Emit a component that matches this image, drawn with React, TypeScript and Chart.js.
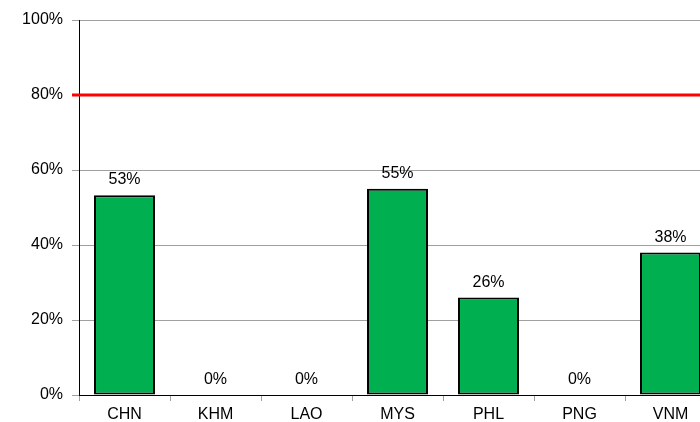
import React, { useEffect, useRef } from "react";
import { Chart, registerables } from "chart.js";

Chart.register(...registerables);

const categories = ["CHN", "KHM", "LAO", "MYS", "PHL", "PNG", "VNM"];
const values = [53.3, 0, 0, 55, 26, 0, 38];
const valueLabels = ["53%", "0%", "0%", "55%", "26%", "0%", "38%"];
const targetValue = 80;
const yTicks = [0, 20, 40, 60, 80, 100];

const FONT = "'Liberation Sans', Arial, sans-serif";

const targetLinePlugin = {
  id: "targetLine",
  beforeDatasetsDraw(chart: any) {
    const { ctx, chartArea, scales } = chart;
    const y = scales.y.getPixelForValue(targetValue);
    ctx.save();
    ctx.strokeStyle = "#ff0000";
    ctx.lineWidth = 3;
    ctx.beginPath();
    ctx.moveTo(chartArea.left - 7, y);
    ctx.lineTo(chartArea.right, y);
    ctx.stroke();
    ctx.restore();
  },
};

const labelPlugin = {
  id: "barLabels",
  afterDatasetsDraw(chart: any) {
    const { ctx } = chart;
    const meta = chart.getDatasetMeta(0);
    ctx.save();
    ctx.font = `16px ${FONT}`;
    ctx.fillStyle = "#000";
    ctx.textAlign = "center";
    ctx.textBaseline = "alphabetic";
    meta.data.forEach((bar: any, i: number) => {
      ctx.fillText(valueLabels[i], bar.x, bar.y - 11);
    });
    ctx.restore();
  },
};

export default function App() {
  const ref = useRef<HTMLCanvasElement>(null);
  useEffect(() => {
    if (!ref.current) return;
    const chart = new Chart(ref.current, {
      type: "bar",
      data: {
        labels: categories,
        datasets: [
          {
            data: values,
            backgroundColor: "#00b050",
            borderColor: "#000000",
            borderWidth: 2,
            borderSkipped: false,
            categoryPercentage: 1,
            barPercentage: 0.67,
          },
        ],
      },
      options: {
        animation: false,
        responsive: false,
        devicePixelRatio: 1,
        layout: { padding: { top: 20, right: 0, bottom: 0, left: 0 } },
        plugins: { legend: { display: false }, tooltip: { enabled: false } },
        scales: {
          x: {
            grid: {
              offset: true,
              drawOnChartArea: false,
              drawTicks: true,
              tickLength: 6,
              color: "#a0a0a0",
            },
            border: { color: "#000", width: 1 },
            ticks: { color: "#000", font: { size: 16, family: FONT }, padding: 4 },
            afterFit(scale: any) {
              scale.height = 27;
            },
          },
          y: {
            min: 0,
            max: 100,
            afterBuildTicks(scale: any) {
              scale.ticks = yTicks.map((v) => ({ value: v }));
            },
            grid: { color: "#a0a0a0", tickLength: 7, lineWidth: 1 },
            border: { color: "#000", width: 1 },
            ticks: {
              color: "#000",
              font: { size: 16, family: FONT },
              padding: 9,
              callback: (v: any) => `${v}%`,
            },
            afterFit(scale: any) {
              scale.width = 79;
            },
          },
        },
      },
      plugins: [targetLinePlugin, labelPlugin],
    } as any);
    return () => chart.destroy();
  }, []);
  return (
    <div
      style={{
        position: "fixed",
        left: 0,
        top: 0,
        width: 700,
        height: 422,
        overflow: "hidden",
        background: "#fff",
      }}
    >
      <canvas ref={ref} width={716} height={422} style={{ display: "block", width: 716, height: 422 }} />
    </div>
  );
}
